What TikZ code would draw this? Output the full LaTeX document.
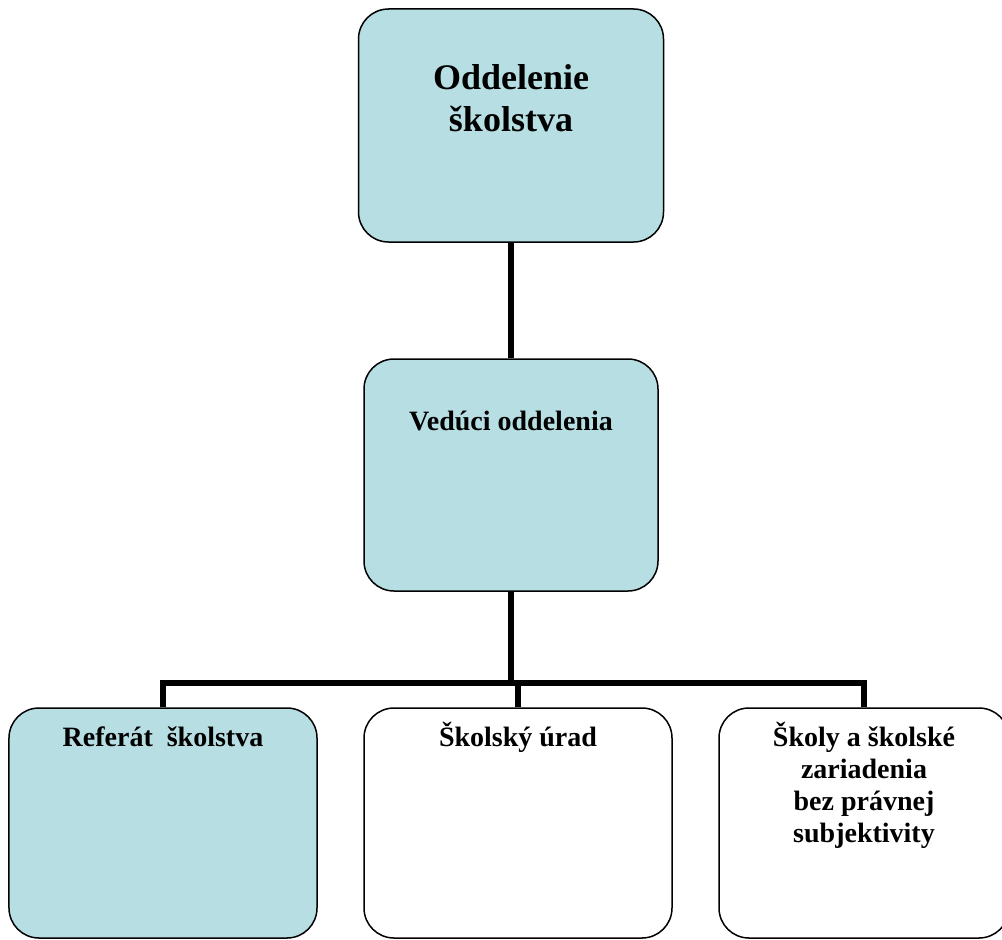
\documentclass[tikz,border=0pt]{standalone}
\usepackage{fontspec}
\setmainfont{Liberation Serif}
\usepackage{xcolor}
\usetikzlibrary{positioning}
\definecolor{unitblue}{HTML}{B7DFE3}

\tikzset{
    unit/.style={draw, line width=1.5bp, rounded corners=30bp, inner sep=0pt},
    unitname/.style={font=\bfseries\fontsize{28bp}{32bp}\selectfont, align=center, inner sep=0pt},
    link/.style={line width=6bp}
}

\begin{document}
\begin{tikzpicture}[x=1bp, y=-1bp]
    \useasboundingbox (0,0) rectangle (1002,940);
    \node[unit, fill=unitblue, minimum width=305bp, minimum height=233bp] (odd) at (511,125.5) {};
    \node[unit, fill=unitblue, minimum width=294bp, minimum height=232bp] (ved) at (511,475) {};
    \node[unit, fill=unitblue, minimum width=308bp, minimum height=230bp] (ref) at (163,823) {};
    \node[unit, fill=white, minimum width=308bp, minimum height=230bp] (urad) at (518,823) {};
    \node[unit, fill=white, minimum width=290bp, minimum height=230bp] (skoly) at (864,823) {};

    % Texts (base = last line)
    \node[unitname, font=\bfseries\fontsize{36bp}{42bp}\selectfont, anchor=base] (oddT) at ([yshift=-123bp]odd.north) {Oddelenie\\školstva};
    \node[unitname, anchor=base] (vedT) at ([yshift=-72bp]ved.north) {Vedúci oddelenia};
    \node[unitname, anchor=base] (refT) at ([yshift=-39bp]ref.north) {Referát\ \ školstva};
    \node[unitname, anchor=base] (uradT) at ([yshift=-39bp]urad.north) {Školský úrad};
    \node[unitname, anchor=base] (skolyT) at ([yshift=-135bp]skoly.north) {Školy a školské\\zariadenia\\bez právnej\\subjektivity};

    % Connectors
    \coordinate (bus) at (511,683);
    \draw[link] (odd.south) -- (ved.north);
    \draw[link] (ved.south) -- (ved.south |- bus);
    \draw[link] (ref.north) |- (bus) -| (skoly.north);
    \draw[link] (urad.north) -- (urad.north |- bus);
\end{tikzpicture}
\end{document}
